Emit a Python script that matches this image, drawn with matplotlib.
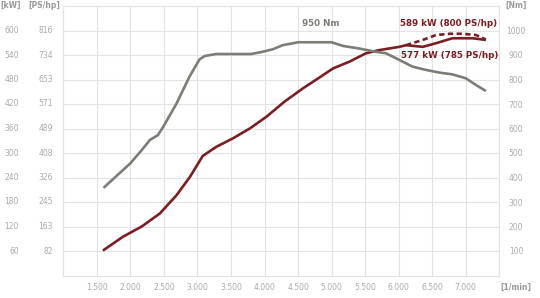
import numpy as np
import matplotlib.pyplot as plt

# TORQUE CURVE (Nm)
torque_rpm = [1600, 2000, 2170, 2290, 2410, 2490, 2690, 2880, 3030, 3110, 3280, 3800,
              3950, 4120, 4270, 4500, 5000, 5170, 5400, 5660, 5810, 6010, 6210, 6410,
              6610, 6800, 7000, 7150, 7300]
torque_nm = [358, 458, 512, 553, 573, 607, 703, 811, 882, 896, 904, 904,
             912, 923, 940, 952, 952, 937, 927, 913, 907, 880, 852, 839,
             828, 821, 805, 778, 753]

# POWER CURVE (kW)
power_rpm = [1590, 1890, 2170, 2440, 2690, 2890, 3080, 3280, 3530, 3780, 4030, 4300,
             4570, 4820, 5020, 5270, 5510, 5710, 6010, 6110, 6360, 6560, 6800, 7100, 7300]
power_kw = [61, 95, 120, 152, 197, 242, 293, 315, 336, 360, 389, 426,
            458, 485, 507, 524, 544, 552, 560, 564, 560, 569, 581, 581, 577]

# OVERBOOST POWER (kW)
boost_rpm = [6110, 6360, 6560, 6760, 6950, 7150, 7300]
boost_kw = [564, 577, 589, 592, 592, 589, 578]

# AXIS TICKS
kw_ticks = [60, 120, 180, 240, 300, 360, 420, 480, 540, 600]
ps_labels = ["82", "163", "245", "326", "408", "489", "571", "653", "734", "816"]
nm_ticks = [100, 200, 300, 400, 500, 600, 700, 800, 900, 1000]
rpm_ticks = [1500, 2000, 2500, 3000, 3500, 4000, 4500, 5000, 5500, 6000, 6500, 7000]
rpm_labels = ["1.500", "2.000", "2.500", "3.000", "3.500", "4.000", "4.500",
              "5.000", "5.500", "6.000", "6.500", "7.000"]

GRID = "#e3e3e3"
TICK = "#aaaaaa"
HEAD = "#9a9a9a"
RED = "#7b1e22"
GRAY = "#7d7d75"

fig = plt.figure(figsize=(5.4, 2.98), dpi=100)
W, H = 540, 298
x0, x1, ytop, ybot = 63.3, 499.3, 6, 275.5
ax = fig.add_axes([x0 / W, (H - ybot) / H, (x1 - x0) / W, (ybot - ytop) / H])
ax.set_xlim(1000, 7500)
ax.set_ylim(0, 660)

ax.set_xticks(np.arange(1000, 7501, 500), minor=False)
ax.set_yticks(np.arange(0, 661, 60))
ax.grid(True, color=GRID, lw=0.8)
ax.set_xticklabels([])
ax.set_yticklabels([])
ax.tick_params(length=0)
for s in ax.spines.values():
    s.set_color(GRID)
    s.set_linewidth(0.8)

# kW labels (far left)
for k in kw_ticks:
    ax.annotate(str(k), (1000, k), xytext=(-44.5, 0), textcoords="offset pixels",
                ha="right", va="center", fontsize=5.5, color=TICK)
# PS labels
for k, p in zip(kw_ticks, ps_labels):
    ax.annotate(p, (1000, k), xytext=(-10.5, 0), textcoords="offset pixels",
                ha="right", va="center", fontsize=5.5, color=TICK)
# rpm labels
for r, lab in zip(rpm_ticks, rpm_labels):
    ax.annotate(lab, (r, 0), xytext=(0, -11.5), textcoords="offset pixels",
                ha="center", va="center", fontsize=5.5, color=TICK)

# torque axis
ax2 = ax.twinx()
ax2.set_ylim(0, 1100)
ax2.set_yticks(nm_ticks)
ax2.set_yticklabels([str(n) for n in nm_ticks], fontsize=5.5, color=TICK)
ax2.tick_params(length=0, pad=12)
for lab in ax2.get_yticklabels():
    lab.set_ha("center")
for s in ax2.spines.values():
    s.set_visible(False)

ax2.plot(torque_rpm, torque_nm, color=GRAY, lw=1.9, solid_capstyle="butt")
ax.plot(power_rpm, power_kw, color=RED, lw=1.9, solid_capstyle="butt")
ax.plot(boost_rpm, boost_kw, color=RED, lw=1.9, dashes=(2, 1.3))

# headers
fig.text(0 / W, 1 - 5 / H, "[kW]", fontsize=5.5, color=HEAD, weight="bold", ha="left", va="center")
fig.text(28 / W, 1 - 5 / H, "[PS/hp]", fontsize=5.5, color=HEAD, weight="bold", ha="left", va="center")
fig.text(516.5 / W, 1 - 5 / H, "[Nm]", fontsize=5.5, color=HEAD, weight="bold", ha="center", va="center")
fig.text(516 / W, 1 - 287 / H, "[1/min]", fontsize=5.5, color=HEAD, weight="bold", ha="center", va="center")

# annotations
fig.text(302 / W, 1 - 24 / H, "950 Nm", fontsize=6.3, color=GRAY, weight="bold", ha="left", va="center")
fig.text(497 / W, 1 - 23 / H, "589 kW (800 PS/hp)", fontsize=6.3, color=RED, weight="bold", ha="right", va="center")
fig.text(498 / W, 1 - 55 / H, "577 kW (785 PS/hp)", fontsize=6.3, color=RED, weight="bold", ha="right", va="center")

fig.savefig("out.png", dpi=100)
